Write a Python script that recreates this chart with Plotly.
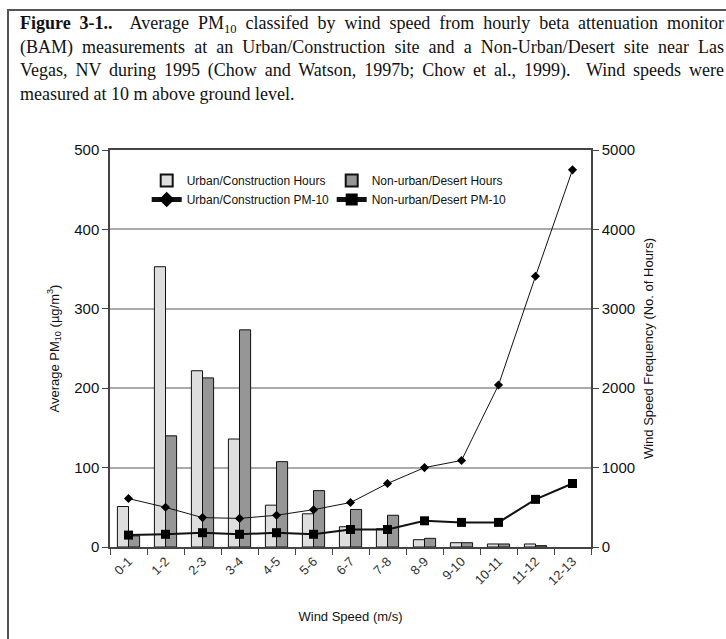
import plotly.graph_objects as go

# ---------------- data ----------------
categories = ["0-1", "1-2", "2-3", "3-4", "4-5", "5-6", "6-7", "7-8", "8-9", "9-10", "10-11", "11-12", "12-13"]
urban_hours = [510, 3530, 2220, 1360, 527, 418, 255, 230, 92, 54, 38, 38, None]
nonurban_hours = [140, 1400, 2130, 2735, 1075, 710, 473, 400, 109, 54, 38, 17, None]
urban_pm10 = [61, 50, 37, 36, 40, 47, 56, 80, 100, 109, 204, 341, 475]
nonurban_pm10 = [15, 16, 18, 16, 18, 16, 22, 22, 33, 31, 31, 60, 80]

caption_lines = [
    "<b>Figure 3-1..</b>\u00a0 Average PM<sub>10</sub> classifed by wind speed from hourly beta attenuation monitor",
    "(BAM) measurements at an Urban/Construction site and a Non-Urban/Desert site near Las",
    "Vegas, NV during 1995 (Chow and Watson, 1997b; Chow et al., 1999).\u00a0 Wind speeds were",
    "measured at 10 m above ground level.",
]

# ---------------- geometry ----------------
W, H = 726, 639
L, R, T, B = 110, 135, 150, 92
PW, PH = W - L - R, H - T - B


def px_x(px):
    return (px - L) / PW


def px_y(py):
    return (H - B - py) / PH


SANS = "Liberation Sans, Arial, sans-serif"
SERIF = "Liberation Serif, Times New Roman, serif"

fig = go.Figure()
fig.add_trace(go.Bar(
    x=categories, y=urban_hours, name="Urban/Construction Hours",
    marker=dict(color="#dedede", line=dict(color="#111", width=1)), yaxis="y",
))
fig.add_trace(go.Bar(
    x=categories, y=nonurban_hours, name="Non-urban/Desert Hours",
    marker=dict(color="#969696", line=dict(color="#111", width=1)), yaxis="y",
))
fig.add_trace(go.Scatter(
    x=categories, y=urban_pm10, name="Urban/Construction PM-10", mode="lines+markers",
    line=dict(color="#111", width=1), marker=dict(symbol="diamond", size=7, color="#000"),
    yaxis="y2",
))
fig.add_trace(go.Scatter(
    x=categories, y=nonurban_pm10, name="Non-urban/Desert PM-10", mode="lines+markers",
    line=dict(color="#111", width=2), marker=dict(symbol="square", size=9, color="#000"),
    yaxis="y2",
))

annotations = []
caption_y = [24, 47.5, 70.5, 93.5]
for txt, yy in zip(caption_lines, caption_y):
    annotations.append(dict(
        text=txt, xref="paper", yref="paper", x=px_x(18), y=px_y(yy),
        xanchor="left", yanchor="middle", align="left", showarrow=False,
        font=dict(family=SERIF, size=18, color="#111"),
    ))

shapes = [dict(
    type="rect", xref="paper", yref="paper",
    x0=px_x(8), x1=px_x(740), y0=px_y(10), y1=px_y(660),
    line=dict(color="#555", width=2), fillcolor="rgba(0,0,0,0)", layer="below",
)]

fig.update_layout(
    width=W, height=H, autosize=False,
    margin=dict(l=L, r=R, t=T, b=B, pad=0),
    paper_bgcolor="white", plot_bgcolor="white",
    barmode="group", bargap=0.4, bargroupgap=0,
    showlegend=True,
    legend=dict(
        orientation="h", x=px_x(146.7), y=px_y(166), xanchor="left", yanchor="top",
        entrywidth=140, entrywidthmode="pixels", traceorder="normal",
        font=dict(family=SANS, size=12, color="#111"), bgcolor="rgba(0,0,0,0)",
        itemsizing="constant",
    ),
    xaxis=dict(
        type="category", tickson="boundaries", ticks="outside", ticklen=6, tickcolor="#444",
        showline=True, linecolor="#444", linewidth=1.5, mirror=True,
        tickangle=-45, tickfont=dict(family=SANS, size=13, color="#333"),
        title=dict(text="Wind Speed (m/s)", font=dict(family=SANS, size=13, color="#111"), standoff=25),
        showgrid=False, range=[-0.5, 12.5],
    ),
    yaxis=dict(
        side="right", range=[0, 5000], dtick=1000, ticks="outside", ticklen=6, tickcolor="#444",
        showline=True, linecolor="#444", linewidth=1.5,
        showgrid=True, gridcolor="#aaaaaa", gridwidth=1.5, zeroline=False,
        tickfont=dict(family=SANS, size=15, color="#111"),
        title=dict(text="Wind Speed Frequency (No. of Hours)", font=dict(family=SANS, size=13, color="#111"), standoff=10),
    ),
    yaxis2=dict(
        side="left", overlaying="y", range=[0, 500], dtick=100, ticks="outside", ticklen=6, tickcolor="#444",
        showline=True, linecolor="#444", linewidth=1.5, showgrid=False, zeroline=False,
        tickfont=dict(family=SANS, size=15, color="#111"),
        title=dict(text="Average PM<sub>10</sub> (µg/m<sup>3</sup>)", font=dict(family=SANS, size=13, color="#111"), standoff=12),
    ),
    annotations=annotations,
    shapes=shapes,
)

post = """
(function(){
  function justify(){
    var targets = ['Figure', '(BAM)', 'Vegas,'];
    var full = 704;
    document.querySelectorAll('text.annotation-text').forEach(function(t){
      var s = t.textContent;
      for (var i = 0; i < targets.length; i++) {
        if (s.indexOf(targets[i]) === 0) {
          t.style.wordSpacing = '0px';
          var w = t.getComputedTextLength();
          var n = (s.match(/[ \\u00a0]/g) || []).length;
          if (n > 0 && w < full) { t.style.wordSpacing = ((full - w) / n) + 'px'; }
        }
      }
    });
  }
  justify();
  var gd = document.getElementById('{plot_id}');
  if (gd && gd.on) { gd.on('plotly_afterplot', justify); }
})();
"""

fig.write_html("out.html", post_script=post, config={"displayModeBar": False})
